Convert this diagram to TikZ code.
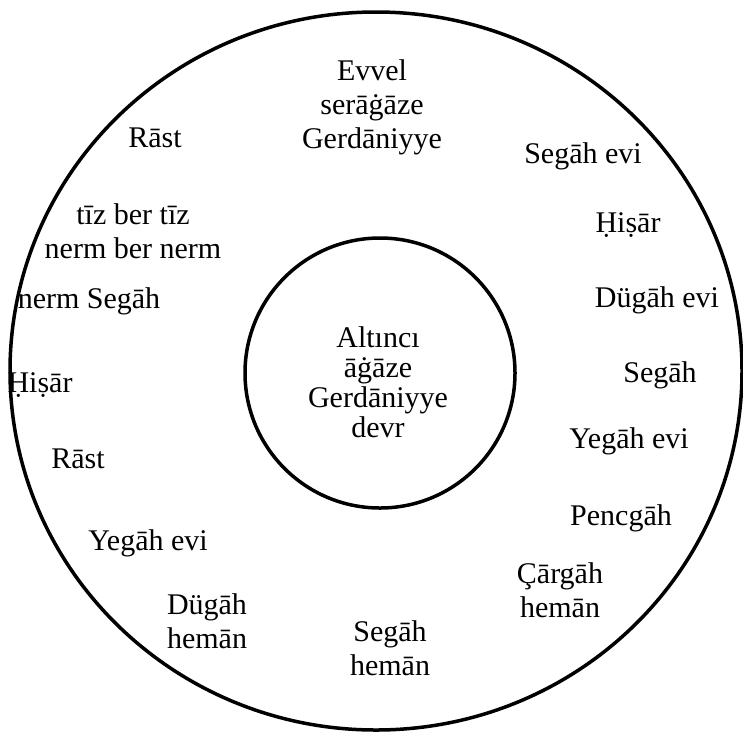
\documentclass[tikz,border=0pt]{standalone}
\usepackage{fontspec}
\setmainfont{Liberation Serif}
\usetikzlibrary{shapes.geometric}

\begin{document}
\begin{tikzpicture}[x=1pt,y=-1pt,
 lbl/.style={inner sep=0pt,anchor=base,font=\fontsize{30}{34}\selectfont,align=center},
 hublbl/.style={lbl,font=\fontsize{30}{30}\selectfont},
 ring/.style={draw,line width=3.5pt,inner sep=0pt}]
\useasboundingbox (0,0) rectangle (743,732);
\node[ring,ellipse,minimum width=732pt,minimum height=718pt] (outer) at (376,371) {};
\node[ring,circle,minimum size=270pt] (hub) at (380,373) {};
% multi-line labels sit on their last baseline
\node[hublbl] (core) at (378,437) {Altıncı\\āġāze\\Gerdāniyye\\devr};
\node[lbl] (evvel) at (372,148) {Evvel\\serāġāze\\Gerdāniyye};
\node[lbl] (tiz) at (133,258) {tīz ber tīz\\nerm ber nerm};
\node[lbl] (dugahHeman) at (207,648) {Dügāh\\hemān};
\node[lbl] (segahHeman) at (390,675) {Segāh\\hemān};
\node[lbl] (cargah) at (560,617) {Çārgāh\\hemān};
\foreach \nm/\x/\y/\txt in {rastTop/155/147/Rāst,segahEvi/583/163/Segāh evi,
  hisarR/628/232/Ḥiṣār,dugahEvi/657/307/Dügāh evi,segahR/660/382/Segāh,
  yegahEviR/629/448/Yegāh evi,pencgah/621/525/Pencgāh,nermSegah/89/308/nerm Segāh,
  hisarL/40/392/Ḥiṣār,rastL/78/468/Rāst,yegahEviL/148/550/Yegāh evi}
 \node[lbl] (\nm) at (\x,\y) {\txt};
\end{tikzpicture}
\end{document}
